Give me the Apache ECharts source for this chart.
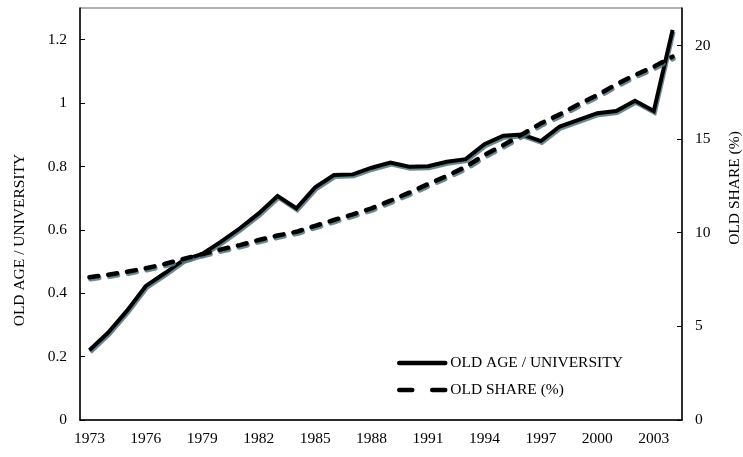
<!DOCTYPE html>
<html>
<head>
<meta charset="utf-8">
<script src="https://cdn.jsdelivr.net/npm/echarts@6/dist/echarts.min.js"></script>
<style>
  html, body { margin: 0; padding: 0; background: #fff; }
  #chart { width: 743px; height: 457px; }
</style>
</head>
<body>
<div id="chart"></div>
<script>
const years = [];
for (let y = 1973; y <= 2004; y++) years.push(String(y));

// ratio, left axis
const oldAgeUniversity = [
    0.22, 0.276, 0.345, 0.423, 0.463, 0.505, 0.524, 0.563, 0.605, 0.652,
    0.707, 0.668, 0.734, 0.773, 0.775, 0.796, 0.812, 0.799, 0.801, 0.815,
    0.823, 0.87, 0.897, 0.901, 0.88, 0.926, 0.947, 0.968, 0.975, 1.007,
    0.975, 1.231
];

// percent, right axis
const oldShare = [
    7.62, 7.76, 7.92, 8.10, 8.33, 8.60, 8.86, 9.11, 9.34, 9.61,
    9.85, 10.05, 10.37, 10.68, 10.98, 11.30, 11.71, 12.14, 12.60, 13.03,
    13.52, 14.15, 14.68, 15.25, 15.84, 16.32, 16.86, 17.35, 17.92, 18.42,
    18.86, 19.4
];

const leftTitle = "OLD AGE / UNIVERSITY";
const rightTitle = "OLD SHARE (%)";

const font = "'Liberation Serif', 'Times New Roman', serif";
const fontSize = 15.5;
const shadow = {
    shadowColor: "rgba(80, 115, 125, 0.85)",
    shadowBlur: 0,
    shadowOffsetX: 1,
    shadowOffsetY: 2
};

const chart = echarts.init(document.getElementById("chart"));

chart.setOption({
    animation: false,
    backgroundColor: "#fff",
    textStyle: { fontFamily: font, color: "#000" },
    grid: {
        left: 80,
        right: 61,
        top: 8,
        bottom: 37,
        show: true,
        borderColor: "#666",
        borderWidth: 1
    },
    legend: {
        show: true,
        orient: "vertical",
        left: 397,
        top: 355,
        right: "auto",
        bottom: "auto",
        padding: 0,
        itemWidth: 46,
        itemHeight: 14,
        itemGap: 11,
        itemStyle: { opacity: 0 },
        textStyle: { fontFamily: font, fontSize: fontSize, color: "#000" },
        data: [
            { name: leftTitle, lineStyle: { width: 4.5, type: "solid", cap: "round" } },
            { name: rightTitle, lineStyle: { width: 4.5, type: [13, 20], cap: "round" } }
        ]
    },
    xAxis: {
        type: "category",
        data: years,
        boundaryGap: true,
        axisLine: { lineStyle: { color: "#000", width: 1.5 } },
        axisTick: { inside: true, length: 5, interval: 0, lineStyle: { color: "#000" } },
        axisLabel: {
            interval: 2,
            margin: 11,
            fontSize: fontSize,
            fontFamily: font,
            color: "#000"
        },
        splitLine: { show: false }
    },
    yAxis: [
        {
            type: "value",
            min: 0,
            max: 1.3,
            interval: 0.2,
            axisLine: { show: true, lineStyle: { color: "#000", width: 1.5 } },
            axisTick: { show: true, inside: true, length: 5, lineStyle: { color: "#000" } },
            axisLabel: { showMaxLabel: false, margin: 13, fontSize: fontSize, fontFamily: font, color: "#000" },
            splitLine: { show: false }
        },
        {
            type: "value",
            min: 0,
            max: 22,
            interval: 5,
            position: "right",
            axisLine: { show: true, lineStyle: { color: "#000", width: 1.5 } },
            axisTick: { show: true, inside: true, length: 5, lineStyle: { color: "#000" } },
            axisLabel: { showMaxLabel: false, margin: 13, fontSize: fontSize, fontFamily: font, color: "#000" },
            splitLine: { show: false }
        }
    ],
    series: [
        {
            name: leftTitle,
            type: "line",
            yAxisIndex: 0,
            data: oldAgeUniversity,
            symbol: "none",
            color: "#000",
            lineStyle: Object.assign({ color: "#000", width: 4, join: "miter" }, shadow)
        },
        {
            name: rightTitle,
            type: "line",
            yAxisIndex: 1,
            data: oldShare,
            symbol: "none",
            color: "#000",
            lineStyle: Object.assign({ color: "#000", width: 4.5, type: [9, 10], cap: "round" }, shadow)
        }
    ],
    graphic: [
        {
            type: "text",
            x: 20,
            y: 240,
            rotation: Math.PI / 2,
            style: {
                text: leftTitle,
                font: fontSize + "px " + font,
                fill: "#000",
                align: "center",
                verticalAlign: "middle"
            }
        },
        {
            type: "text",
            x: 735,
            y: 188,
            rotation: Math.PI / 2,
            style: {
                text: rightTitle,
                font: fontSize + "px " + font,
                fill: "#000",
                align: "center",
                verticalAlign: "middle"
            }
        }
    ]
});

window.addEventListener("resize", () => chart.resize());
</script>
</body>
</html>
